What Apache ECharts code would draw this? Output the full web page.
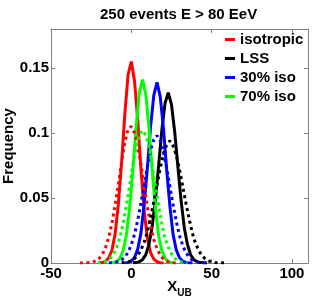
<!DOCTYPE html>
<html><head><meta charset="utf-8">
<script src="https://cdn.jsdelivr.net/npm/echarts@6/dist/echarts.min.js"></script>
<style>html,body{margin:0;padding:0;background:#fff}#c{width:312px;height:303px}</style>
</head><body><div id="c"></div>
<script>
// bin step (XUB units)
const STEP = 2;
const legendNames = ['isotropic', 'LSS', '30% iso', '70% iso'];
const xTicks = [-50, 0, 50, 100];
const yTicks = [0, 0.05, 0.1, 0.15];

// solid curves
const isoSolidStart = -20;
const isoSolid = [0, 0.0003, 0.0013, 0.004, 0.010, 0.023, 0.046, 0.078, 0.115, 0.145, 0.155, 0.140, 0.110, 0.072, 0.040, 0.019, 0.008, 0.003, 0.001, 0.0002, 0];
const lssSolidStart = 1;
const lssSolid = [0.0001, 0.0003, 0.0009, 0.0026, 0.0064, 0.0143, 0.028, 0.049, 0.075, 0.102, 0.123, 0.131, 0.122, 0.101, 0.074, 0.048, 0.027, 0.014, 0.006, 0.0025, 0.0009, 0.0003, 0.0001, 0];
const iso30SolidStart = -4;
const iso30Solid = [0.0001, 0.0004, 0.0015, 0.0042, 0.0107, 0.023, 0.045, 0.073, 0.105, 0.129, 0.139, 0.128, 0.104, 0.072, 0.044, 0.022, 0.010, 0.004, 0.0014, 0.0004, 0.0001, 0];
const iso70SolidStart = -13;
const iso70Solid = [0.0001, 0.0004, 0.0012, 0.0038, 0.0098, 0.022, 0.043, 0.072, 0.105, 0.131, 0.141, 0.130, 0.104, 0.071, 0.042, 0.021, 0.0095, 0.0036, 0.0011, 0.0003, 0];

// dotted curves
const isoDottedStart = -32;
const isoDotted = [0, 0.0001, 0.0002, 0.0004, 0.0008, 0.0017, 0.0035, 0.0066, 0.012, 0.020, 0.031, 0.045, 0.061, 0.078, 0.093, 0.103, 0.105, 0.100, 0.090, 0.076, 0.059, 0.043, 0.029, 0.018, 0.011, 0.006, 0.003, 0.0015, 0.0006, 0.0002, 0];
const lssDottedStart = -6;
const lssDotted = [0.0002, 0.0004, 0.0009, 0.0017, 0.0033, 0.0059, 0.010, 0.016, 0.024, 0.035, 0.047, 0.060, 0.073, 0.084, 0.091, 0.094, 0.090, 0.083, 0.072, 0.059, 0.046, 0.034, 0.023, 0.015, 0.0095, 0.0057, 0.0032, 0.0016, 0.0008, 0.0004, 0.0002, 0.0001, 0];
const iso30DottedStart = -14;
const iso30Dotted = [0.0001, 0.0002, 0.0006, 0.0012, 0.0024, 0.0046, 0.0083, 0.014, 0.022, 0.033, 0.046, 0.060, 0.074, 0.087, 0.095, 0.098, 0.094, 0.086, 0.073, 0.059, 0.045, 0.032, 0.021, 0.0135, 0.008, 0.0045, 0.0023, 0.0012, 0.0005, 0.0002, 0.0001, 0];
const iso70DottedStart = -21;
const iso70Dotted = [0.0002, 0.0004, 0.0009, 0.0019, 0.0038, 0.0071, 0.0124, 0.020, 0.031, 0.045, 0.060, 0.076, 0.089, 0.099, 0.102, 0.098, 0.090, 0.075, 0.059, 0.044, 0.030, 0.019, 0.012, 0.007, 0.0037, 0.0018, 0.0009, 0.0004, 0.0001];

function pts(start, ys) { return ys.map((y, i) => [start + i * STEP, y]); }

const FONT = 'Liberation Sans, Arial, Helvetica, sans-serif';
const AX = '#808080';
const colors = ['#ff0000', '#000000', '#0000ff', '#00ff00'];
const solids = [[isoSolidStart, isoSolid], [lssSolidStart, lssSolid], [iso30SolidStart, iso30Solid], [iso70SolidStart, iso70Solid]];
const dotteds = [[isoDottedStart, isoDotted], [lssDottedStart, lssDotted], [iso30DottedStart, iso30Dotted], [iso70DottedStart, iso70Dotted]];

const series = [];
solids.forEach((s, i) => series.push({
  name: legendNames[i], type: 'line', showSymbol: false, animation: false,
  data: pts(s[0], s[1]), color: colors[i],
  lineStyle: { width: 3, color: colors[i] }
}));
dotteds.forEach((s, i) => series.push({
  name: legendNames[i] + ' (dotted)', type: 'line', showSymbol: false, animation: false,
  data: pts(s[0], s[1]), color: colors[i],
  lineStyle: { width: 3, color: colors[i], type: [3, 3.5] }
}));

const chart = echarts.init(document.getElementById('c'), null, { renderer: 'canvas' });
const axisCommon = {
  axisLine: { show: true, onZero: false, lineStyle: { color: AX, width: 1 } },
  axisTick: { show: true, inside: true, length: 4, lineStyle: { color: AX } },
  splitLine: { show: false }
};
chart.setOption({
  animation: false,
  backgroundColor: '#fff',
  title: {
    text: '250 events E > 80 EeV', left: 100, top: 7, padding: 0,
    textStyle: { fontFamily: FONT, fontSize: 15, fontWeight: 'bold', color: '#000' }
  },
  grid: { left: 51, right: 4, top: 29, bottom: 40, containLabel: false, outerBoundsMode: 'none' },
  legend: {
    data: legendNames, orient: 'vertical', left: 225, top: 32, padding: 0,
    icon: 'rect', itemWidth: 10, itemHeight: 3, itemGap: 4,
    textStyle: { fontFamily: FONT, fontSize: 15, fontWeight: 'bold', color: '#000' }
  },
  xAxis: [
    Object.assign({
      type: 'value', min: xTicks[0], max: 110, interval: 50, position: 'bottom',
      axisLabel: { margin: 3, showMaxLabel: false, fontFamily: FONT, fontSize: 15, fontWeight: 'bold', color: '#000' },
      name: '{x|X}{s|UB}', nameLocation: 'middle', nameGap: 16, nameMoveOverlap: false,
      nameTextStyle: { rich: {
        x: { fontFamily: FONT, fontSize: 15, fontWeight: 'bold', color: '#000', lineHeight: 15 },
        s: { fontFamily: FONT, fontSize: 10, fontWeight: 'bold', color: '#000', lineHeight: 10, padding: [14, 0, 0, 0] }
      } }
    }, axisCommon),
    Object.assign({
      type: 'value', min: xTicks[0], max: 110, interval: 50, position: 'top',
      axisLabel: { show: false }
    }, axisCommon)
  ],
  yAxis: [
    Object.assign({
      type: 'value', min: yTicks[0], max: 0.18, interval: 0.05, position: 'left',
      axisLabel: { margin: 2, showMaxLabel: false, fontFamily: FONT, fontSize: 15, fontWeight: 'bold', color: '#000' },
      name: 'Frequency', nameLocation: 'middle', nameGap: 35, nameMoveOverlap: false,
      nameTextStyle: { fontFamily: FONT, fontSize: 15, fontWeight: 'bold', color: '#000' }
    }, axisCommon),
    Object.assign({
      type: 'value', min: yTicks[0], max: 0.18, interval: 0.05, position: 'right',
      axisLabel: { show: false }
    }, axisCommon)
  ],
  series: series
});
</script></body></html>
